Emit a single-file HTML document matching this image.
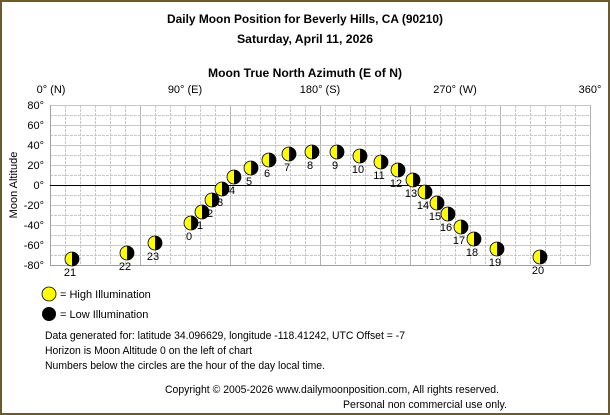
<!DOCTYPE html>
<html><head><meta charset="utf-8"><style>
html,body{margin:0;padding:0;background:#fff}
svg{display:block}
text{font-family:"Liberation Sans",sans-serif;font-size:11px;fill:#000}
.b{font-weight:bold;font-size:12px}
</style></head><body>
<svg width="610" height="415" viewBox="0 0 610 415" xmlns="http://www.w3.org/2000/svg">
<rect x="1" y="1" width="608" height="413" fill="#fff" stroke="#6b5a30" stroke-width="2"/>
<text class="b" x="305" y="23" text-anchor="middle" textLength="276" lengthAdjust="spacingAndGlyphs">Daily Moon Position for Beverly Hills, CA (90210)</text>
<text class="b" x="305" y="43" text-anchor="middle" textLength="136" lengthAdjust="spacingAndGlyphs">Saturday, April 11, 2026</text>
<text class="b" x="305" y="77" text-anchor="middle" textLength="194" lengthAdjust="spacingAndGlyphs">Moon True North Azimuth (E of N)</text>
<text x="51" y="93" text-anchor="middle">0° (N)</text>
<text x="185" y="93" text-anchor="middle">90° (E)</text>
<text x="320" y="93" text-anchor="middle">180° (S)</text>
<text x="455" y="93" text-anchor="middle">270° (W)</text>
<text x="590" y="93" text-anchor="middle">360°</text>
<g id="grid"></g>
<g stroke="#ccc" stroke-width="1" fill="none" id="g">
</g>
<script>
(function(){
var ns="http://www.w3.org/2000/svg",g=document.getElementById('g');
function L(x1,y1,x2,y2,d,c){var l=document.createElementNS(ns,'line');l.setAttribute('x1',x1);l.setAttribute('y1',y1);l.setAttribute('x2',x2);l.setAttribute('y2',y2);l.setAttribute('stroke',c||'#c8c8c8');if(d)l.setAttribute('stroke-dasharray','3,1');g.appendChild(l);}
for(var i=1;i<=36;i++){var x=50+i*15+0.5;L(x,105,x,265,i%6!=0,i%6==0?'#b4b4b4':null);}
for(var j=0;j<16;j++){var y=105+j*10+0.5;L(50,y,590,y,j%2==1);}
L(50.5,105,50.5,265,false,'#a0a0a0');L(50,265.5,590,265.5,false,'#a0a0a0');
})();
</script>
<line x1="50" y1="185.5" x2="590" y2="185.5" stroke="#000" stroke-width="1"/>
<g text-anchor="end">
<text x="44" y="109">80°</text><text x="44" y="129">60°</text><text x="44" y="149">40°</text><text x="44" y="169">20°</text><text x="44" y="189">0°</text><text x="44" y="209">-20°</text><text x="44" y="229">-40°</text><text x="44" y="249">-60°</text><text x="44" y="269">-80°</text>
</g>
<text transform="translate(17,185) rotate(-90)" text-anchor="middle">Moon Altitude</text>
<g id="m"></g>
<script>
(function(){
var ns="http://www.w3.org/2000/svg",g=document.getElementById('m');
var d=[[21,72,259],[22,127,253],[23,155,243],[0,191,223],[1,202,212],[2,212,200],[3,222,189],[4,234,177],[5,251,168],[6,269,160],[7,289,154],[8,312,152],[9,337,152],[10,360,156],[11,381,162],[12,398,170],[13,413,180],[14,425,192],[15,437,203],[16,448,214],[17,461,227],[18,474,239],[19,497,249],[20,540,257]];
d.forEach(function(a){var x=a[1],y=a[2],r=7;
var c=document.createElementNS(ns,'circle');c.setAttribute('cx',x);c.setAttribute('cy',y);c.setAttribute('r',r);c.setAttribute('fill','#ffff00');c.setAttribute('stroke','#000');c.setAttribute('stroke-width','0.8');g.appendChild(c);
var p=document.createElementNS(ns,'path');p.setAttribute('d','M'+x+','+(y-r)+' A'+r+','+r+' 0 0 1 '+x+','+(y+r)+' Z');p.setAttribute('fill','#000');g.appendChild(p);
var t=document.createElementNS(ns,'text');t.setAttribute('x',x-2);t.setAttribute('y',y+17);t.setAttribute('text-anchor','middle');t.textContent=a[0];g.appendChild(t);});
})();
</script>
<circle cx="49" cy="294" r="7" fill="#ffff00" stroke="#000" stroke-width="0.8"/>
<circle cx="49" cy="314" r="7" fill="#000"/>
<text x="60" y="298">= High Illumination</text>
<text x="60" y="318">= Low Illumination</text>
<text x="45" y="339" textLength="360" lengthAdjust="spacingAndGlyphs">Data generated for: latitude 34.096629, longitude -118.41242, UTC Offset = -7</text>
<text x="45" y="354" textLength="207" lengthAdjust="spacingAndGlyphs">Horizon is Moon Altitude 0 on the left of chart</text>
<text x="45" y="369" textLength="280" lengthAdjust="spacingAndGlyphs">Numbers below the circles are the hour of the day local time.</text>
<text x="499" y="393" text-anchor="end" textLength="334" lengthAdjust="spacingAndGlyphs">Copyright © 2005-2026 www.dailymoonposition.com, All rights reserved.</text>
<text x="507" y="408" text-anchor="end" textLength="164" lengthAdjust="spacingAndGlyphs">Personal non commercial use only.</text>
</svg>
</body></html>
